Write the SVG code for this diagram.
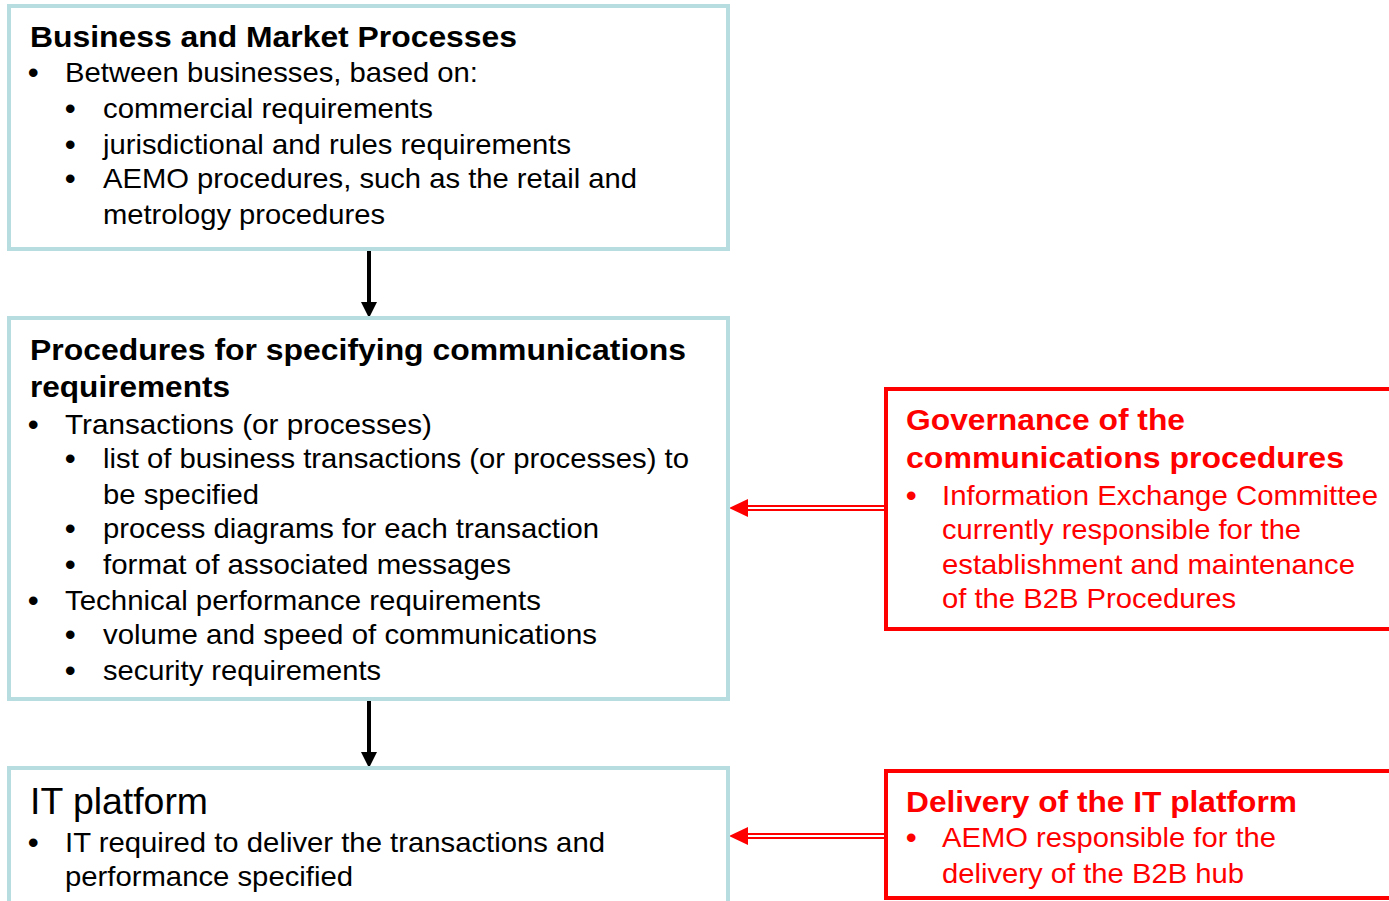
<svg xmlns="http://www.w3.org/2000/svg" width="1389" height="901" viewBox="0 0 1389 901">
<style>
.box{fill:#fff;stroke:#b7dde1;stroke-width:4}
.rbox{fill:#fff;stroke:#ff0000;stroke-width:4}
text{font-family:"Liberation Sans",Arial,sans-serif;fill:#000}
.t{font-weight:bold;font-size:29px}
.b{font-size:28px}
.d{font-size:30px;font-weight:bold}
.r{fill:#ff0000}
</style>
<rect width="1389" height="901" fill="#fff"/>
<g id="connectors">
  <line x1="369" y1="250" x2="369" y2="304" stroke="#000" stroke-width="4"/>
  <polygon points="361,302 377,302 369,318" fill="#000"/>
  <line x1="369" y1="700" x2="369" y2="754" stroke="#000" stroke-width="4"/>
  <polygon points="361,752 377,752 369,768" fill="#000"/>
  <line x1="745" y1="508" x2="886" y2="508" stroke="#ff0000" stroke-width="6"/>
  <line x1="745" y1="508" x2="886" y2="508" stroke="#fff" stroke-width="2"/>
  <polygon points="729,508 748,499 748,517" fill="#ff0000"/>
  <line x1="745" y1="836" x2="886" y2="836" stroke="#ff0000" stroke-width="6"/>
  <line x1="745" y1="836" x2="886" y2="836" stroke="#fff" stroke-width="2"/>
  <polygon points="729,836 748,827 748,845" fill="#ff0000"/>
</g>
<g id="business">
  <rect class="box" x="9" y="6" width="719" height="243"/>
  <text class="t" x="30" y="47" textLength="487" lengthAdjust="spacingAndGlyphs">Business and Market Processes</text>
  <text class="d" x="28" y="83">•</text>
  <text class="b" x="65" y="82" textLength="413" lengthAdjust="spacingAndGlyphs">Between businesses, based on:</text>
  <text class="d" x="65" y="119">•</text>
  <text class="b" x="103" y="118" textLength="330" lengthAdjust="spacingAndGlyphs">commercial requirements</text>
  <text class="d" x="65" y="155">•</text>
  <text class="b" x="103" y="154" textLength="468" lengthAdjust="spacingAndGlyphs">jurisdictional and rules requirements</text>
  <text class="d" x="65" y="189">•</text>
  <text class="b" x="103" y="188" textLength="534" lengthAdjust="spacingAndGlyphs">AEMO procedures, such as the retail and</text>
  <text class="b" x="103" y="224" textLength="282" lengthAdjust="spacingAndGlyphs">metrology procedures</text>
</g>
<g id="procedures">
  <rect class="box" x="9" y="318" width="719" height="381"/>
  <text class="t" x="30" y="360" textLength="656" lengthAdjust="spacingAndGlyphs">Procedures for specifying communications</text>
  <text class="t" x="30" y="397" textLength="200" lengthAdjust="spacingAndGlyphs">requirements</text>
  <text class="d" x="28" y="435">•</text>
  <text class="b" x="65" y="434" textLength="367" lengthAdjust="spacingAndGlyphs">Transactions (or processes)</text>
  <text class="d" x="65" y="469">•</text>
  <text class="b" x="103" y="468" textLength="586" lengthAdjust="spacingAndGlyphs">list of business transactions (or processes) to</text>
  <text class="b" x="103" y="504" textLength="156" lengthAdjust="spacingAndGlyphs">be specified</text>
  <text class="d" x="65" y="539">•</text>
  <text class="b" x="103" y="538" textLength="496" lengthAdjust="spacingAndGlyphs">process diagrams for each transaction</text>
  <text class="d" x="65" y="575">•</text>
  <text class="b" x="103" y="574" textLength="408" lengthAdjust="spacingAndGlyphs">format of associated messages</text>
  <text class="d" x="28" y="611">•</text>
  <text class="b" x="65" y="610" textLength="476" lengthAdjust="spacingAndGlyphs">Technical performance requirements</text>
  <text class="d" x="65" y="645">•</text>
  <text class="b" x="103" y="644" textLength="494" lengthAdjust="spacingAndGlyphs">volume and speed of communications</text>
  <text class="d" x="65" y="681">•</text>
  <text class="b" x="103" y="680" textLength="278" lengthAdjust="spacingAndGlyphs">security requirements</text>
</g>
<g id="itplatform">
  <rect class="box" x="9" y="768" width="719" height="160"/>
  <text x="30" y="814" font-size="37" textLength="178" lengthAdjust="spacingAndGlyphs">IT platform</text>
  <text class="d" x="28" y="853">•</text>
  <text class="b" x="65" y="852" textLength="540" lengthAdjust="spacingAndGlyphs">IT required to deliver the transactions and</text>
  <text class="b" x="65" y="886" textLength="288" lengthAdjust="spacingAndGlyphs">performance specified</text>
</g>
<g id="governance">
  <rect class="rbox" x="886" y="389" width="520" height="240"/>
  <text class="t r" x="906" y="430" textLength="279" lengthAdjust="spacingAndGlyphs">Governance of the</text>
  <text class="t r" x="906" y="468" textLength="438" lengthAdjust="spacingAndGlyphs">communications procedures</text>
  <text class="d r" x="906" y="506">•</text>
  <text class="b r" x="942" y="505" textLength="436" lengthAdjust="spacingAndGlyphs">Information Exchange Committee</text>
  <text class="b r" x="942" y="539" textLength="359" lengthAdjust="spacingAndGlyphs">currently responsible for the</text>
  <text class="b r" x="942" y="574" textLength="413" lengthAdjust="spacingAndGlyphs">establishment and maintenance</text>
  <text class="b r" x="942" y="608" textLength="294" lengthAdjust="spacingAndGlyphs">of the B2B Procedures</text>
</g>
<g id="delivery">
  <rect class="rbox" x="886" y="771" width="520" height="127"/>
  <text class="t r" x="906" y="812" textLength="391" lengthAdjust="spacingAndGlyphs">Delivery of the IT platform</text>
  <text class="d r" x="906" y="848">•</text>
  <text class="b r" x="942" y="847" textLength="334" lengthAdjust="spacingAndGlyphs">AEMO responsible for the</text>
  <text class="b r" x="942" y="883" textLength="302" lengthAdjust="spacingAndGlyphs">delivery of the B2B hub</text>
</g>
</svg>
